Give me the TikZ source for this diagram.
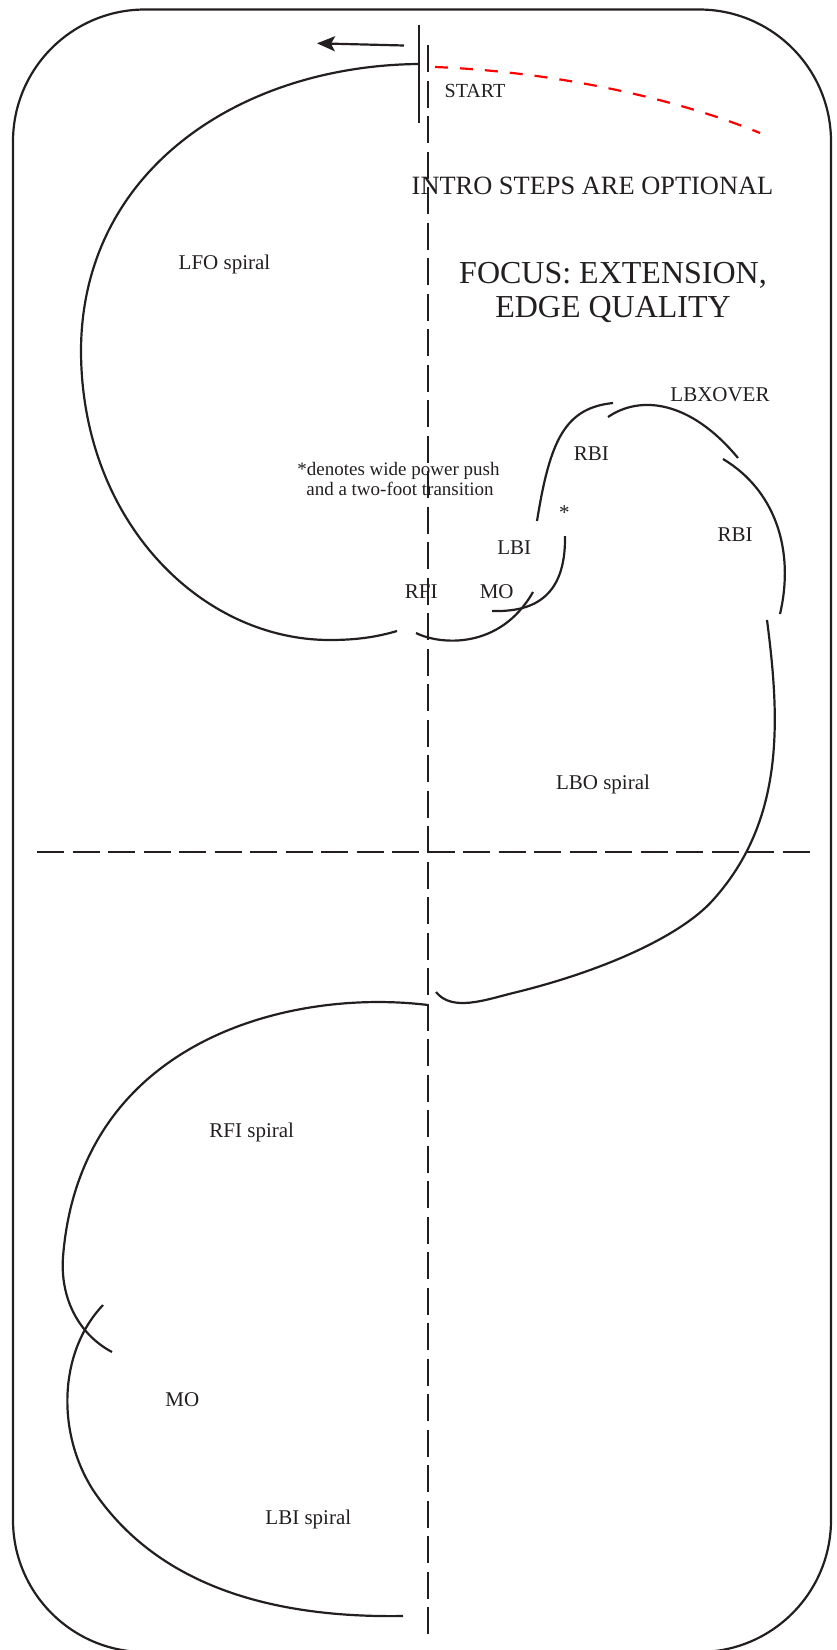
\documentclass[tikz,border=0pt]{standalone}
\usepackage{fontspec}
\setmainfont{Liberation Serif}
\usetikzlibrary{arrows.meta}
\definecolor{ink}{RGB}{35,31,32}
\begin{document}
\begin{tikzpicture}[x=1pt,y=-1pt,
  edge/.style={ink,line width=2.2pt},
  axis/.style={ink,line width=2.4pt,dash pattern=on 27pt off 8.5pt},
  lbl/.style={ink,anchor=base,inner sep=0pt,font=\fontsize{21}{24}\selectfont}]
\useasboundingbox (0,0) rectangle (837,1650);
\draw[edge,rounded corners=132pt] (13,9.5) rectangle (831,1652);
\draw[axis] (428,45) -- (428,1634);
\draw[axis] (37,852) -- (809.5,852);
\draw[red,line width=2.2pt,dash pattern=on 13pt off 12pt] (435,67) .. controls (560,72) and (680,100) .. (760,133);
\draw[edge] (419,25) -- (419,123);
\draw[edge,-{Stealth[length=18pt,width=15pt,inset=4pt]}] (404,45.5) -- (317,43.3);
\draw[edge] (418,64) .. controls (240,66) and (82,170) .. (81,350) .. controls (81,520) and (200,640) .. (330,640) .. controls (360,640) and (380,636) .. (397,631);
\draw[edge] (416,633) .. controls (440,645) and (500,650) .. (533,592);
\draw[edge] (492,611) .. controls (530,612) and (566,600) .. (565,536);
\draw[edge] (537,521) .. controls (550,440) and (565,408) .. (613,403);
\draw[edge] (608,417) .. controls (640,395) and (690,400) .. (738,458);
\draw[edge] (723,459) .. controls (775,490) and (795,550) .. (780,614);
\draw[edge] (767,620) .. controls (780,720) and (785,820) .. (713,900) .. controls (680,937) and (600,972) .. (513,993) .. controls (485,1000) and (452,1012) .. (436,992);
\draw[edge] (428,1005) .. controls (290,988) and (80,1040) .. (63,1257) .. controls (60,1300) and (80,1335) .. (112,1352);
\draw[edge] (103,1305) .. controls (60,1350) and (55,1430) .. (93,1490) .. controls (160,1590) and (280,1618) .. (403,1616);
\node[lbl,font=\fontsize{20}{24}\selectfont] (start) at (475,97) {START};
\node[lbl,font=\fontsize{26.4}{30}\selectfont] (intro) at (592.5,194) {INTRO STEPS ARE OPTIONAL};
\node[lbl,font=\fontsize{32}{36}\selectfont] (focusa) at (613,283.5) {FOCUS: EXTENSION,};
\node[lbl,font=\fontsize{32}{36}\selectfont] (focusb) at (613,317) {EDGE QUALITY};
\node[lbl,font=\fontsize{19}{22}\selectfont] (notea) at (398.5,475) {*denotes wide power push};
\node[lbl,font=\fontsize{19}{22}\selectfont] (noteb) at (400,495) {and a two-foot transition};
\node[lbl] (lfo) at (224.5,269) {LFO spiral};
\node[lbl] (lbx) at (720,401.7) {LBXOVER};
\node[lbl] (rbia) at (591.4,460.7) {RBI};
\node[lbl] (rbib) at (735,541.7) {RBI};
\node[ink,inner sep=0pt,font=\fontsize{21}{24}\selectfont] (star) at (564.3,513) {*};
\node[lbl] (lbi) at (514.3,554) {LBI};
\node[lbl] (rfi) at (421.2,598) {RFI};
\node[lbl] (moa) at (496.7,598) {MO};
\node[lbl] (lbo) at (603,789) {LBO spiral};
\node[lbl] (rfis) at (251.7,1137) {RFI spiral};
\node[lbl] (mob) at (182.3,1406) {MO};
\node[lbl] (lbis) at (308.3,1524) {LBI spiral};
\end{tikzpicture}
\end{document}
